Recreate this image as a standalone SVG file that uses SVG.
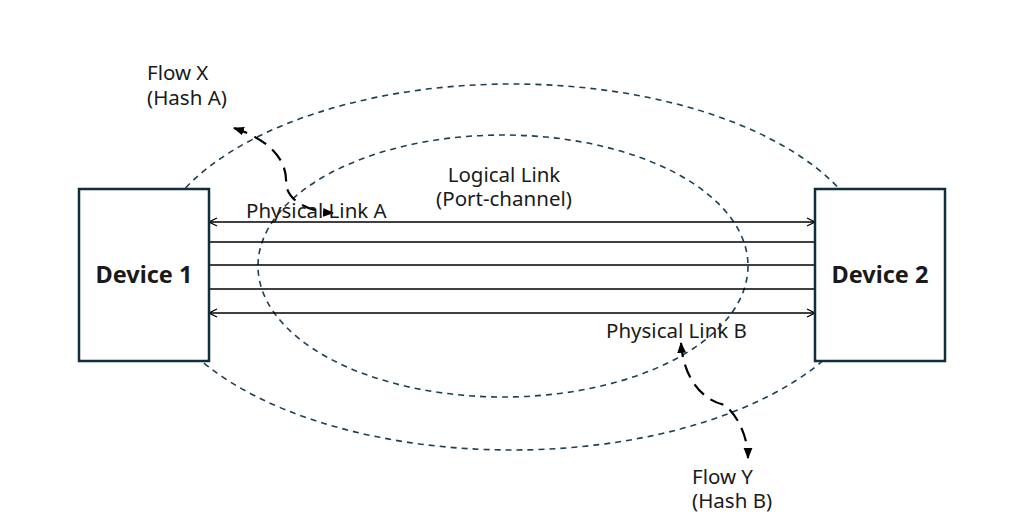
<svg xmlns="http://www.w3.org/2000/svg" width="1024" height="522" viewBox="0 0 1024 522">
<style>
text{font-family:"Noto Sans","DejaVu Sans",sans-serif;font-size:20.5px;fill:#1a1a1a}
.b{font-weight:bold;font-size:23.5px;text-anchor:middle}
.box{fill:#fff;stroke:#0f2d3b;stroke-width:2.5}
.ell{fill:none;stroke:#1f3f52;stroke-width:1.6;stroke-dasharray:6 5}
.ln{stroke:#000;stroke-width:1.5;fill:none}
.fl{stroke:#000;stroke-width:2.2;fill:none;stroke-dasharray:14 8}
</style>
<defs>
<marker id="a" viewBox="0 0 10 10" refX="9" refY="5" markerWidth="10" markerHeight="10" markerUnits="userSpaceOnUse" orient="auto-start-reverse"><path d="M1,1L9,5L1,9" fill="none" stroke="#000" stroke-width="1.3"/></marker>
<marker id="f" viewBox="0 0 10 10" refX="9" refY="5" markerWidth="11" markerHeight="11" markerUnits="userSpaceOnUse" orient="auto-start-reverse"><path d="M0,1L10,5L0,9Z" fill="#000"/></marker>
</defs>
<g id="connectors">
<ellipse class="ell" cx="512" cy="267" rx="362" ry="183"/>
<ellipse class="ell" cx="503" cy="266" rx="245" ry="131"/>
<path class="ln" d="M209,222H815" marker-start="url(#a)" marker-end="url(#a)"/>
<path class="ln" d="M209,242H815"/>
<path class="ln" d="M209,265H815"/>
<path class="ln" d="M209,289H815"/>
<path class="ln" d="M209,313H815" marker-start="url(#a)" marker-end="url(#a)"/>
<path class="fl" d="M234,128C270,140 288,160 286,185C290,205 315,212 333,213" marker-start="url(#f)" marker-end="url(#f)"/>
<path class="fl" d="M681,343C683,375 700,400 725,405C740,418 748,440 748,458" marker-start="url(#f)" marker-end="url(#f)"/>
</g>
<g id="device1"><rect class="box" x="79" y="189" width="130" height="172"/><text class="b" x="144" y="283">Device 1</text></g>
<g id="device2"><rect class="box" x="815" y="189" width="130" height="172"/><text class="b" x="880" y="283">Device 2</text></g>
<g id="labels">
<text x="147" y="80">Flow X</text><text x="147" y="105">(Hash A)</text>
<text x="504" y="182" text-anchor="middle">Logical Link</text><text x="504" y="206" text-anchor="middle">(Port-channel)</text>
<text x="246" y="218">Physical Link A</text>
<text x="606" y="338">Physical Link B</text>
<text x="692" y="484">Flow Y</text><text x="692" y="508">(Hash B)</text>
</g>
</svg>
